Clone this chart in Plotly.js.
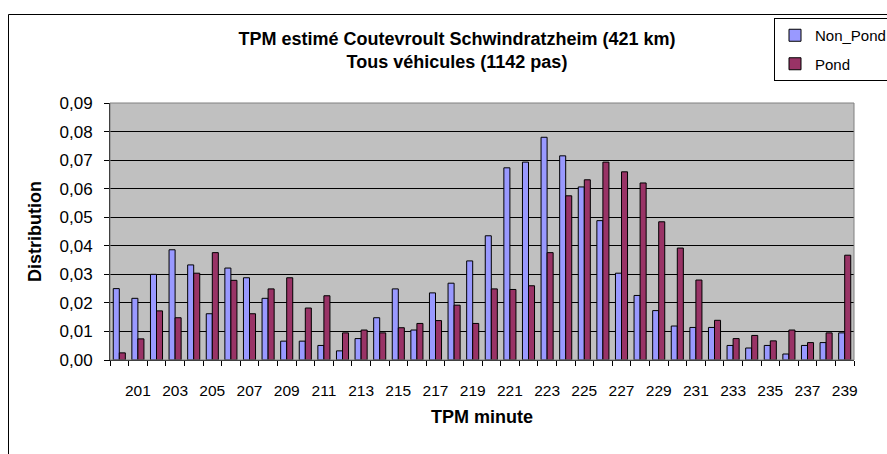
<!DOCTYPE html>
<html>
<head>
<meta charset="utf-8">
<script src="https://cdn.plot.ly/plotly-3.0.1.min.js"></script>
<style>
  html, body { margin: 0; padding: 0; background: #fff; }
  #chart { width: 887px; height: 454px; }
</style>
</head>
<body>
<div id="chart"></div>
<script>
// Categories (TPM minute)
const minutes = [200,201,202,203,204,205,206,207,208,209,
                 210,211,212,213,214,215,216,217,218,219,
                 220,221,222,223,224,225,226,227,228,229,
                 230,231,232,233,234,235,236,237,238,239];

// Series values
const nonPond = [0.0250,0.0216,0.0300,0.0386,0.0333,0.0162,0.0322,0.0288,0.0216,0.0066,
                 0.0066,0.0051,0.0032,0.0075,0.0148,0.0249,0.0105,0.0235,0.0269,0.0347,
                 0.0435,0.0673,0.0693,0.0780,0.0715,0.0606,0.0488,0.0304,0.0226,0.0173,
                 0.0119,0.0114,0.0114,0.0051,0.0042,0.0051,0.0021,0.0051,0.0061,0.0095];

const pond    = [0.0025,0.0074,0.0172,0.0148,0.0304,0.0376,0.0279,0.0162,0.0249,0.0288,
                 0.0182,0.0225,0.0095,0.0105,0.0095,0.0113,0.0128,0.0138,0.0192,0.0128,
                 0.0249,0.0247,0.0260,0.0376,0.0575,0.0631,0.0693,0.0659,0.0620,0.0484,
                 0.0392,0.0280,0.0139,0.0075,0.0086,0.0067,0.0105,0.0061,0.0095,0.0367];

// Tick labels shown on the category axis
const xTickLabels = [201,203,205,207,209,211,213,215,217,219,
                     221,223,225,227,229,231,233,235,237,239];

const seriesNames = ['Non_Pond', 'Pond'];

const FONT = 'Liberation Sans, Arial, Helvetica, sans-serif';
const W = 887, H = 454;
const M = {l: 110, r: 33, t: 103, b: 94};
const PW = W - M.l - M.r, PH = H - M.t - M.b;
// pixel -> paper helpers for the outer chart frame
const px = v => (v - M.l) / PW;
const py = v => (H - M.b - v) / PH;

const traces = [
  {
    type: 'bar', name: seriesNames[0], x: minutes, y: nonPond,
    legendgroup: 'a',
    marker: {color: '#9999FF', line: {color: '#000000', width: 1}},
    hoverinfo: 'x+y+name'
  },
  {
    type: 'bar', name: seriesNames[1], x: minutes, y: pond,
    legendgroup: 'b',
    marker: {color: '#993366', line: {color: '#000000', width: 1}},
    hoverinfo: 'x+y+name'
  }
];

const layout = {
  width: W, height: H,
  margin: {l: M.l, r: M.r, t: M.t, b: M.b, autoexpand: false},
  paper_bgcolor: '#FFFFFF',
  plot_bgcolor: '#C0C0C0',
  separators: ', ',
  font: {family: FONT, color: '#000000', size: 16},
  barmode: 'group',
  bargap: 0.35,
  bargroupgap: 0,
  title: {
    text: 'TPM estimé Coutevroult Schwindratzheim (421 km)<br>Tous véhicules (1142 pas)',
    font: {family: FONT, size: 18, weight: 'bold', color: '#000000'},
    xref: 'container', x: 457 / W, xanchor: 'center',
    yref: 'container', y: 1 - 45 / H, yanchor: 'top'
  },
  xaxis: {
    type: 'linear',
    range: [minutes[0] - 0.5, minutes[minutes.length - 1] + 0.5],
    tickmode: 'array',
    tickvals: xTickLabels,
    ticktext: xTickLabels.map(String),
    ticks: '',
    ticklabelstandoff: 16,
    tickfont: {family: FONT, size: 15.5, color: '#000000'},
    minor: {tickmode: 'linear', tick0: minutes[0] - 0.5, dtick: 1, ticks: 'outside', ticklen: 5, tickwidth: 1, tickcolor: '#000000', showgrid: false},
    showgrid: false,
    zeroline: false,
    showline: true, linecolor: '#000000', linewidth: 1,
    fixedrange: true,
    title: {text: 'TPM minute', font: {family: FONT, size: 18, weight: 'bold', color: '#000000'}, standoff: 12}
  },
  yaxis: {
    range: [0, 0.09],
    tickmode: 'linear', tick0: 0, dtick: 0.01,
    tickformat: '.2f',
    ticks: 'outside', ticklen: 5, tickwidth: 1, tickcolor: '#000000',
    ticklabelstandoff: 8,
    tickfont: {family: FONT, size: 17, color: '#000000'},
    showgrid: true, gridcolor: '#000000', gridwidth: 1,
    zeroline: false,
    showline: true, linecolor: '#000000', linewidth: 1,
    fixedrange: true,
    title: {text: 'Distribution', font: {family: FONT, size: 18, weight: 'bold', color: '#000000'}, standoff: 13}
  },
  showlegend: true,
  legend: {
    xref: 'container', yref: 'container',
    x: 774 / W, xanchor: 'left',
    y: 1 - 18 / H, yanchor: 'top',
    bgcolor: '#FFFFFF', bordercolor: '#000000', borderwidth: 1,
    font: {family: FONT, size: 15, color: '#000000'},
    traceorder: 'grouped', tracegroupgap: 6,
    itemwidth: 30
  },
  shapes: [
    // plot-area border (grey)
    {type: 'rect', xref: 'paper', yref: 'paper', x0: 0, x1: 1, y0: 0, y1: 1,
     line: {color: '#808080', width: 1}, layer: 'above'},
    // outer chart frame
    {type: 'rect', xref: 'paper', yref: 'paper',
     x0: px(8.5), x1: px(W + 20), y0: py(H + 20), y1: py(14.5),
     line: {color: '#000000', width: 1}, fillcolor: 'rgba(0,0,0,0)', layer: 'above'}
  ]
};

Plotly.newPlot('chart', traces, layout, {displayModeBar: false, staticPlot: true});
</script>
</body>
</html>
